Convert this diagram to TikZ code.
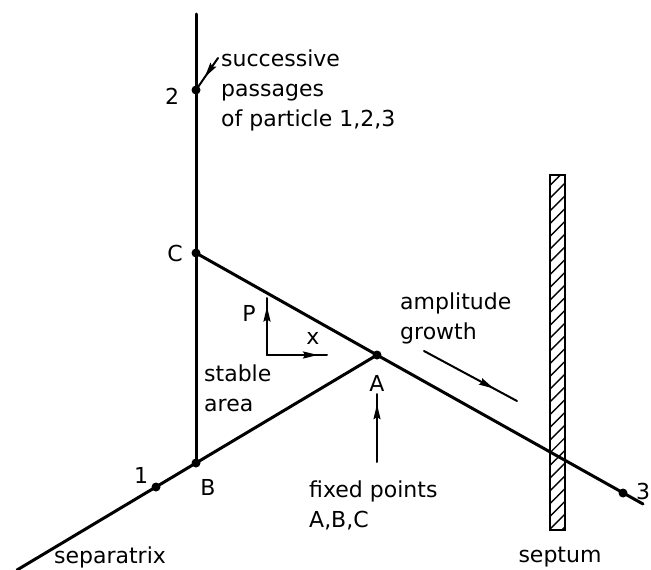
\documentclass[tikz,border=0pt]{standalone}
\usepackage{fontspec}
\setmainfont{DejaVu Sans}
\usetikzlibrary{arrows.meta, positioning, patterns.meta, decorations.markings}

\begin{document}
\begin{tikzpicture}[x=1pt, y=-1pt, line cap=round,
  orbit/.style={line width=3pt},
  guide/.style={line width=2pt},
  lbl/.style={font=\fontsize{22}{30}\selectfont, inner sep=0pt},
  dot/.style={circle, fill, inner sep=0pt, minimum size=9pt},
  midarrow/.style={postaction={decorate}, decoration={markings,
    mark=at position #1 with {\arrow{Stealth[length=15pt,width=7pt,inset=2pt]}}}}]
  \useasboundingbox (0,0) rectangle (651,570);

  % fixed points and particle passages
  \coordinate (top) at (196,14);
  \coordinate (C) at (196,253);
  \coordinate (B) at (196,463);
  \coordinate (A) at (377,355);
  \coordinate (p2) at (196,90);
  \coordinate (p1) at (156,487);
  \coordinate (p3) at (623,493);
  \coordinate (end3) at (643,504);
  \coordinate (endsep) at (17,570);

  % septum
  \draw[line width=2.4pt, pattern={Lines[angle=45, distance=9pt, line width=1.4pt]}] (550,175) rectangle (565,530);

  % separatrices
  \draw[orbit] (top) -- (B);
  \draw[orbit] (C) -- (A) -- (end3);
  \draw[orbit] (A) -- (B) -- (endsep);

  \foreach \p in {C, B, A, p1, p2, p3}
    \node[dot] at (\p) {};

  \node[lbl, anchor=east] (lblC) at (183,253) {C};
  \node[lbl] (lblB) at (208,487) {B};
  \node[lbl] (lblA) at (377,383) {A};
  \node[lbl] (lbl1) at (141,475) {1};
  \node[lbl] (lbl2) at (172,96) {2};
  \node[lbl, anchor=west] (lbl3) at (636,491) {3};

  % successive passages
  \node[lbl, anchor=west, align=left] (passages) at (221,90)
    {successive\\passages\\of particle 1,2,3};
  \coordinate (lead) at (218,58);
  \draw[guide, midarrow=0.6] (lead) -- (p2);

  % local axes
  \coordinate (orig) at (267,355);
  \coordinate (pend) at (267,298);
  \coordinate (xend) at (327,355);
  \draw[guide, midarrow=0.85] (orig) -- (pend);
  \draw[guide, midarrow=0.85] (orig) -- (xend);
  \node[lbl] (lblP) at (249,313) {P};
  \node[lbl] (lblx) at (313,338) {x};

  \node[lbl, anchor=west, align=left] (stable) at (204,388) {stable\\area};

  % amplitude growth
  \node[lbl, anchor=west, align=left] (growth) at (400,318) {amplitude\\growth};
  \coordinate (g1) at (424,351);
  \coordinate (g2) at (517,401);
  \draw[guide, midarrow=0.75] (g1) -- (g2);

  % fixed points
  \coordinate (f1) at (377,462);
  \coordinate (f2) at (377,394);
  \draw[guide, midarrow=0.85] (f1) -- (f2);
  \node[lbl, anchor=west, align=left] (fixed) at (309,505) {fixed points\\A,B,C};

  \node[lbl] (sepx) at (110,557) {separatrix};
  \node[lbl] (septum) at (560,557) {septum};
\end{tikzpicture}
\end{document}
